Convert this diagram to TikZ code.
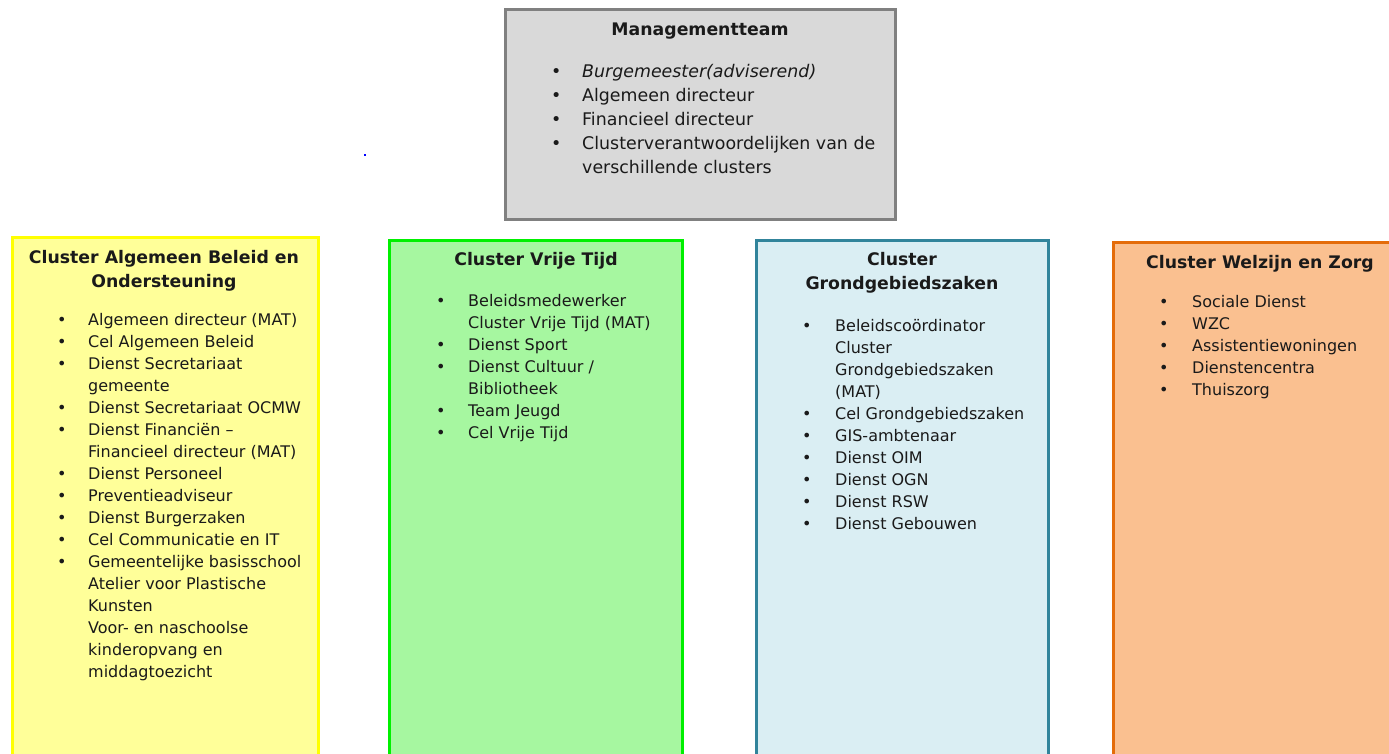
\documentclass[tikz,border=0pt]{standalone}
\usepackage{fontspec}
\setmainfont{DejaVu Sans}
\usepackage{array}
\definecolor{mgfill}{HTML}{D9D9D9}
\definecolor{mgline}{HTML}{808080}
\definecolor{yfill}{HTML}{FFFF99}
\definecolor{yline}{HTML}{FFFF00}
\definecolor{gfill}{HTML}{A6F7A0}
\definecolor{gline}{HTML}{00F000}
\definecolor{bfill}{HTML}{DAEEF3}
\definecolor{bline}{HTML}{31849B}
\definecolor{ofill}{HTML}{FAC090}
\definecolor{oline}{HTML}{E46C0A}
\definecolor{txt}{HTML}{1A1A1A}
\newcommand{\bitem}{\textbullet}
\begin{document}
\begin{tikzpicture}[x=1pt,y=-1pt,
  box/.style={draw, line width=3pt, anchor=north west, inner sep=0pt, outer sep=0pt},
  ttl/.style={font=\bfseries\fontsize{17.3}{24}\selectfont, text=txt, anchor=base, inner sep=0pt},
  lst/.style={anchor=base west, inner sep=0pt, text=txt, font=\fontsize{16}{22}\selectfont},
  mlst/.style={anchor=base west, inner sep=0pt, text=txt, font=\fontsize{17.4}{24}\selectfont}]
\useasboundingbox (0,0) rectangle (1389,754);
\clip (0,0) rectangle (1389,754);
\fill[white] (0,0) rectangle (1389,754);
% stray dot
\fill[blue] (364,154) rectangle (366,156);
% Management box
\node[box, fill=mgfill, draw=mgline, minimum width=390pt, minimum height=210pt] (mt) at (505,10) {};
\node[ttl] (mtT) at (700,36) {Managementteam};
\node[mlst] (mtL) at (551,78) {\begin{tabular}[t]{@{}p{31pt}@{}l@{}}
\bitem & \textit{Burgemeester(adviserend)}\\
\bitem & Algemeen directeur\\
\bitem & Financieel directeur\\
\bitem & Clusterverantwoordelijken van de\\
 & verschillende clusters
\end{tabular}};
% Yellow
\node[box, fill=yfill, draw=yline, minimum width=306pt, minimum height=560pt] (ya) at (12,237) {};
\node[ttl] (yaT1) at (164,263) {Cluster Algemeen Beleid en};
\node[ttl] (yaT2) at (164,287) {Ondersteuning};
\node[lst] (yaL) at (57,325) {\begin{tabular}[t]{@{}p{31pt}@{}l@{}}
\bitem & Algemeen directeur (MAT)\\
\bitem & Cel Algemeen Beleid\\
\bitem & Dienst Secretariaat\\
 & gemeente\\
\bitem & Dienst Secretariaat OCMW\\
\bitem & Dienst Financiën –\\
 & Financieel directeur (MAT)\\
\bitem & Dienst Personeel\\
\bitem & Preventieadviseur\\
\bitem & Dienst Burgerzaken\\
\bitem & Cel Communicatie en IT\\
\bitem & Gemeentelijke basisschool\\
 & Atelier voor Plastische\\
 & Kunsten\\
 & Voor- en naschoolse\\
 & kinderopvang en\\
 & middagtoezicht
\end{tabular}};
% Green
\node[box, fill=gfill, draw=gline, minimum width=293pt, minimum height=560pt] (vt) at (389,240) {};
\node[ttl] (vtT) at (536,265) {Cluster Vrije Tijd};
\node[lst] (vtL) at (436,306) {\begin{tabular}[t]{@{}p{32pt}@{}l@{}}
\bitem & Beleidsmedewerker\\
 & Cluster Vrije Tijd (MAT)\\
\bitem & Dienst Sport\\
\bitem & Dienst Cultuur /\\
 & Bibliotheek\\
\bitem & Team Jeugd\\
\bitem & Cel Vrije Tijd
\end{tabular}};
% Blue
\node[box, fill=bfill, draw=bline, minimum width=292pt, minimum height=560pt] (gg) at (756,240) {};
\node[ttl] (ggT1) at (902,265) {Cluster};
\node[ttl] (ggT2) at (902,289) {Grondgebiedszaken};
\node[lst] (ggL) at (802,331) {\begin{tabular}[t]{@{}p{33pt}@{}l@{}}
\bitem & Beleidscoördinator\\
 & Cluster\\
 & Grondgebiedszaken\\
 & (MAT)\\
\bitem & Cel Grondgebiedszaken\\
\bitem & GIS-ambtenaar\\
\bitem & Dienst OIM\\
\bitem & Dienst OGN\\
\bitem & Dienst RSW\\
\bitem & Dienst Gebouwen
\end{tabular}};
% Orange
\node[box, fill=ofill, draw=oline, minimum width=300pt, minimum height=560pt] (wz) at (1113,242) {};
\node[ttl] (wzT) at (1260,268) {Cluster Welzijn en Zorg};
\node[lst] (wzL) at (1159,307) {\begin{tabular}[t]{@{}p{33pt}@{}l@{}}
\bitem & Sociale Dienst\\
\bitem & WZC\\
\bitem & Assistentiewoningen\\
\bitem & Dienstencentra\\
\bitem & Thuiszorg
\end{tabular}};
\end{tikzpicture}
\end{document}
